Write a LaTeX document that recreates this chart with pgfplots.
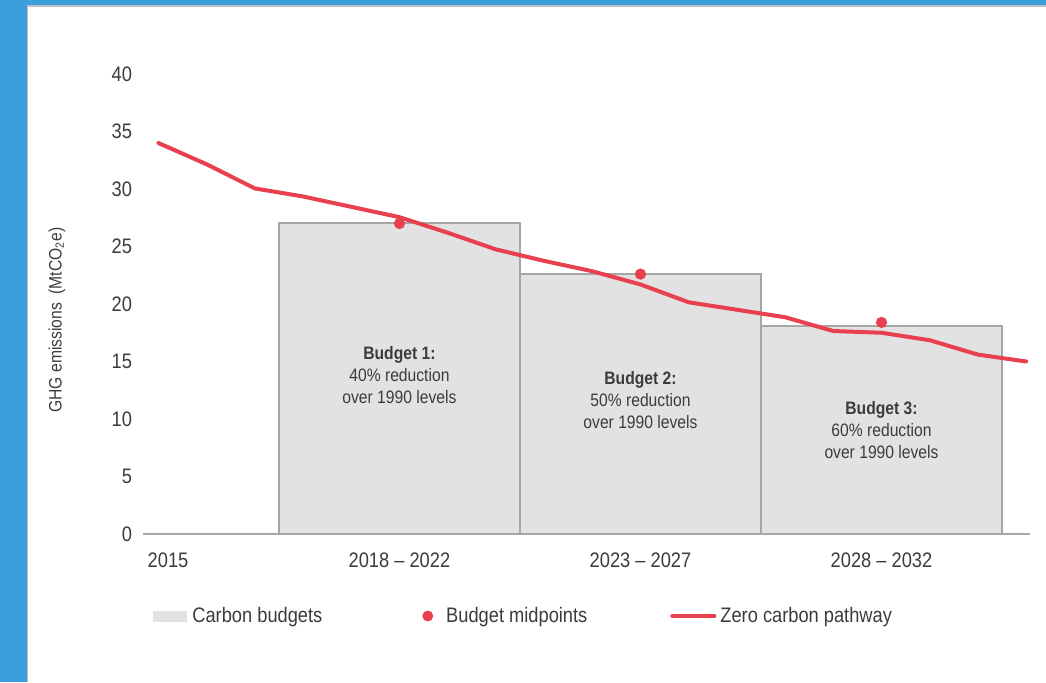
\documentclass[border=0pt]{standalone}
\usepackage{pgfplots}
\pgfplotsset{compat=1.18}
\usepackage{fontspec}
\setmainfont{Liberation Sans}[FakeStretch=0.87]

\definecolor{frameblue}{HTML}{3C9FDC}
\definecolor{pathred}{HTML}{E8404E}
\definecolor{barfill}{HTML}{E2E2E2}
\definecolor{bardraw}{HTML}{A6A6A6}
\definecolor{txt}{HTML}{3C3C3C}

\begin{document}
\begin{tikzpicture}
\useasboundingbox (0,0) rectangle (523pt,341pt);
\fill[frameblue] (0,0) rectangle (523pt,341pt);
\fill[white] (13.5pt,0) rectangle (523pt,338pt);
\draw[black!25, line width=0.8pt] (13.8pt,0) -- (13.8pt,338pt) -- (523pt,338pt);
\begin{axis}[
    at={(71.5pt,74pt)}, anchor=south west,
    scale only axis,
    width=443.5pt, height=230pt,
    xmin=2014.68, xmax=2033.08,
    ymin=0, ymax=40,
    axis x line*=bottom,
    axis y line*=left,
    y axis line style={draw=none},
    x axis line style={draw=bardraw, line width=1pt},
    major tick length=0pt,
    ytick={0,5,...,40},
    xtick={2015.2,2020,2025,2030},
    xticklabels={2015, 2018 -- 2022, 2023 -- 2027, 2028 -- 2032},
    /pgf/number format/assume math mode=true,
    tick label style={font=\fontsize{10.5}{12}\selectfont, text=txt},
    yticklabel style={xshift=-2pt},
    xticklabel style={yshift=-6pt},
    ylabel={GHG emissions\ \ (MtCO\textsubscript{2}e)},
    every axis y label/.style={at={(axis description cs:-0.0970,0.465)}, rotate=90, anchor=center,
        font=\fontsize{9}{11}\selectfont, text=txt},
    clip=false,
    legend columns=3,
    legend style={at={(axis description cs:0,0)}, anchor=west, xshift=5pt, yshift=-41pt,
        draw=none, fill=none, inner sep=0pt,
        font=\fontsize{10.5}{12}\selectfont, text=txt,
        nodes={inner sep=0pt},
        /tikz/column 1/.style={column sep=2.5pt},
        /tikz/column 2/.style={column sep=50pt},
        /tikz/column 3/.style={column sep=6.5pt},
        /tikz/column 4/.style={column sep=41.5pt},
        /tikz/column 5/.style={column sep=2pt}},
]
\addplot[ybar interval, fill=barfill, draw=bardraw, line width=1pt,
    legend image code/.code={\fill[barfill] (0pt,-2.25pt) rectangle (16pt,2.25pt);}]
  coordinates {(2017.5,27.05) (2022.5,22.6) (2027.5,18.1) (2032.5,0)};
\addlegendentry{Carbon budgets}

\addplot[only marks, mark=*, mark size=2.6pt, color=pathred,
    legend image code/.code={\fill[pathred] (2.5pt,0pt) circle (2.5pt);}]
  coordinates {(2020,27.0) (2025,22.6) (2030,18.4)};
\addlegendentry{Budget midpoints}

\addplot[pathred, line width=2pt, line join=round, line cap=round, mark=none,
    legend image code/.code={\draw[pathred, line width=2pt] (0pt,0pt) -- (21pt,0pt);}]
  coordinates {
(2015,34.0) (2016,32.15) (2017,30.05) (2018,29.35) (2019,28.45) (2020,27.55)
(2021,26.2) (2022,24.75) (2023,23.75) (2024,22.85) (2025,21.7) (2026,20.15)
(2027,19.5) (2028,18.85) (2029,17.65) (2030,17.5) (2031,16.85) (2032,15.6)
(2033,15.0)
  };
\addlegendentry{Zero carbon pathway}

\node[align=center, text=txt, font=\fontsize{9}{11}\selectfont] at (axis cs:2020,13.83)
  {{\bfseries Budget 1:}\\40\% reduction\\over 1990 levels};
\node[align=center, text=txt, font=\fontsize{9}{11}\selectfont] at (axis cs:2025,11.65)
  {{\bfseries Budget 2:}\\50\% reduction\\over 1990 levels};
\node[align=center, text=txt, font=\fontsize{9}{11}\selectfont] at (axis cs:2030,9.04)
  {{\bfseries Budget 3:}\\60\% reduction\\over 1990 levels};
\end{axis}
\end{tikzpicture}
\end{document}
